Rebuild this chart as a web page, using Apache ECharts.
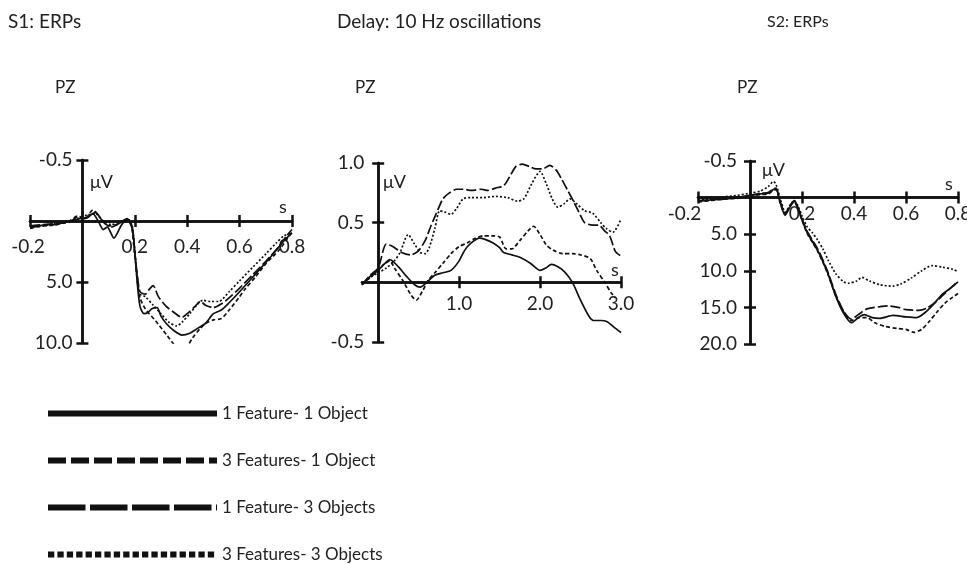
<!DOCTYPE html>
<html><head><meta charset="utf-8">
<script src="https://cdn.jsdelivr.net/npm/echarts@6/dist/echarts.min.js"></script>
<style>html,body{margin:0;padding:0;background:#fff}#c{width:967px;height:564px}</style>
</head><body><div id="c"></div>
<script>
// ---------- data ----------
const NAMES = ['1 Feature- 1 Object', '3 Features- 1 Object', '1 Feature- 3 Objects', '3 Features- 3 Objects'];
const PANEL_TITLES = ['S1: ERPs', 'Delay: 10 Hz oscillations', 'S2: ERPs'];
const ELECTRODE = 'PZ';

// Panel 1: S1 ERPs (s, µV; positive plotted downward)
const S1_1F1O = [[-0.2,0.5],[-0.17,0.4],[-0.13,0.3],[-0.1,0.3],[-0.07,0.1],[-0.04,0.0],[-0.01,-0.2],[0.02,-0.3],[0.04,-0.6],[0.06,0.0],[0.08,0.7],[0.095,0.5],[0.12,1.4],[0.15,0.3],[0.17,-0.1],[0.19,0.6],[0.2,2.5],[0.21,5.2],[0.22,7.0],[0.235,7.6],[0.25,7.5],[0.265,7.2],[0.285,7.1],[0.3,7.8],[0.32,8.4],[0.35,9.0],[0.38,9.35],[0.41,9.2],[0.44,8.8],[0.47,8.4],[0.5,7.6],[0.53,7.3],[0.56,6.7],[0.6,5.8],[0.65,4.6],[0.7,3.4],[0.74,2.4],[0.77,1.6],[0.8,1.0]];
const S1_3F1O = [[-0.2,0.6],[-0.15,0.4],[-0.1,0.3],[-0.05,0.0],[-0.02,-0.4],[0.01,-0.2],[0.04,-0.9],[0.07,-0.2],[0.1,0.4],[0.13,0.3],[0.16,0.0],[0.18,-0.1],[0.2,2.8],[0.21,5.0],[0.22,6.3],[0.24,7.2],[0.28,8.2],[0.32,9.3],[0.36,10.4],[0.38,10.7],[0.4,10.3],[0.42,9.6],[0.45,8.8],[0.47,8.4],[0.5,8.1],[0.53,8.0],[0.56,7.3],[0.6,6.2],[0.62,5.6],[0.66,4.6],[0.7,3.5],[0.75,2.4],[0.79,1.2],[0.8,0.9]];
const S1_1F3O = [[-0.2,0.4],[-0.15,0.3],[-0.1,0.2],[-0.05,0.1],[-0.02,-0.3],[0.01,-0.2],[0.05,-0.7],[0.08,0.1],[0.11,0.5],[0.14,0.2],[0.17,-0.2],[0.19,0.5],[0.2,2.6],[0.21,4.5],[0.22,5.8],[0.24,6.0],[0.255,5.6],[0.27,5.3],[0.29,6.2],[0.32,7.0],[0.35,7.5],[0.38,7.9],[0.4,7.6],[0.43,7.0],[0.45,6.6],[0.47,6.9],[0.5,7.1],[0.53,6.8],[0.56,6.3],[0.6,5.5],[0.65,4.4],[0.7,3.3],[0.75,2.1],[0.78,1.2],[0.8,0.7]];
const S1_3F3O = [[-0.2,0.5],[-0.15,0.4],[-0.1,0.2],[-0.05,0.0],[-0.02,-0.2],[0.02,-0.5],[0.05,-0.6],[0.08,0.0],[0.11,0.3],[0.14,0.1],[0.17,-0.1],[0.19,0.4],[0.2,2.5],[0.21,4.8],[0.22,6.0],[0.24,6.2],[0.27,6.9],[0.3,7.6],[0.33,8.3],[0.36,8.6],[0.38,8.3],[0.41,7.6],[0.44,6.8],[0.46,6.5],[0.49,6.6],[0.52,6.6],[0.56,5.8],[0.6,4.9],[0.65,3.8],[0.7,2.7],[0.74,1.8],[0.77,1.2],[0.8,1.0]];

// Panel 2: Delay, 10 Hz oscillations (s, µV)
const S2_1F1O = [[-0.2,-0.02],[-0.1,0.05],[0,0.1],[0.07,0.15],[0.145,0.19],[0.25,0.13],[0.35,0.05],[0.45,-0.02],[0.52,-0.04],[0.6,0.0],[0.7,0.06],[0.8,0.08],[0.9,0.1],[1.0,0.18],[1.07,0.27],[1.15,0.33],[1.25,0.37],[1.32,0.36],[1.42,0.33],[1.5,0.29],[1.55,0.25],[1.65,0.23],[1.75,0.21],[1.88,0.16],[1.95,0.12],[2.0,0.1],[2.07,0.12],[2.14,0.15],[2.22,0.13],[2.3,0.09],[2.4,0.0],[2.5,-0.15],[2.6,-0.28],[2.66,-0.32],[2.75,-0.32],[2.83,-0.33],[2.92,-0.38],[3.0,-0.42]];
const S2_3F1O = [[-0.2,-0.02],[-0.1,0.04],[0,0.1],[0.07,0.15],[0.145,0.18],[0.2,0.12],[0.3,0.02],[0.4,-0.1],[0.47,-0.15],[0.55,-0.07],[0.62,0.02],[0.7,0.08],[0.8,0.16],[0.9,0.24],[1.0,0.3],[1.1,0.33],[1.2,0.37],[1.3,0.39],[1.4,0.39],[1.5,0.38],[1.58,0.28],[1.65,0.28],[1.75,0.35],[1.85,0.43],[1.92,0.47],[2.0,0.4],[2.08,0.31],[2.16,0.27],[2.28,0.24],[2.4,0.24],[2.5,0.23],[2.62,0.2],[2.7,0.1],[2.8,0.0],[2.88,-0.09],[2.93,-0.13]];
const S2_1F3O = [[-0.2,-0.02],[-0.1,0.06],[0,0.12],[0.1,0.32],[0.18,0.3],[0.29,0.25],[0.4,0.23],[0.49,0.26],[0.58,0.35],[0.65,0.47],[0.72,0.58],[0.8,0.7],[0.88,0.75],[0.97,0.78],[1.05,0.78],[1.15,0.77],[1.28,0.78],[1.35,0.77],[1.45,0.79],[1.55,0.81],[1.62,0.88],[1.7,0.97],[1.78,0.99],[1.87,0.97],[1.95,0.95],[2.03,0.95],[2.12,0.98],[2.2,0.94],[2.27,0.86],[2.35,0.76],[2.42,0.67],[2.5,0.56],[2.55,0.5],[2.65,0.48],[2.72,0.48],[2.8,0.43],[2.86,0.39],[2.93,0.26],[3.0,0.22]];
const S2_3F3O = [[-0.2,-0.02],[-0.1,0.04],[0,0.08],[0.1,0.12],[0.2,0.18],[0.27,0.25],[0.37,0.4],[0.45,0.32],[0.52,0.25],[0.58,0.24],[0.63,0.29],[0.7,0.45],[0.76,0.6],[0.82,0.59],[0.9,0.57],[0.97,0.62],[1.05,0.7],[1.15,0.71],[1.3,0.71],[1.45,0.72],[1.6,0.71],[1.72,0.68],[1.8,0.7],[1.9,0.83],[2.0,0.93],[2.08,0.82],[2.15,0.7],[2.22,0.63],[2.3,0.66],[2.37,0.7],[2.45,0.66],[2.55,0.6],[2.65,0.58],[2.75,0.5],[2.82,0.45],[2.9,0.42],[3.0,0.53]];

// Panel 3: S2 ERPs (s, µV; positive plotted downward)
const S3_1F1O = [[-0.2,0.5],[-0.15,0.3],[-0.1,0.2],[-0.05,0.0],[0,-0.3],[0.04,-0.5],[0.07,-0.6],[0.09,-1.1],[0.1,-1.2],[0.115,0.5],[0.135,2.4],[0.155,1.2],[0.17,0.5],[0.185,1.5],[0.2,3.0],[0.22,4.8],[0.24,6.0],[0.26,7.2],[0.28,8.7],[0.3,10.4],[0.33,13.5],[0.36,15.8],[0.39,17.1],[0.42,16.3],[0.44,16.0],[0.47,16.4],[0.5,16.5],[0.55,16.1],[0.6,16.3],[0.64,16.4],[0.67,15.8],[0.7,14.8],[0.74,13.2],[0.77,12.4],[0.8,11.5]];
const S3_3F1O = [[-0.2,0.6],[-0.15,0.4],[-0.1,0.2],[-0.05,0.1],[0,-0.2],[0.04,-0.4],[0.07,-0.5],[0.09,-1.0],[0.1,-1.1],[0.115,0.6],[0.135,2.3],[0.155,1.1],[0.17,0.6],[0.185,1.6],[0.2,3.1],[0.22,4.9],[0.24,6.1],[0.26,7.3],[0.28,8.8],[0.3,10.5],[0.33,13.4],[0.36,15.6],[0.39,16.8],[0.42,16.4],[0.45,16.4],[0.48,17.1],[0.52,17.6],[0.57,17.9],[0.6,18.0],[0.63,18.4],[0.66,18.0],[0.69,16.9],[0.72,15.6],[0.75,14.4],[0.78,13.6],[0.8,13.1]];
const S3_1F3O = [[-0.2,0.4],[-0.15,0.3],[-0.1,0.1],[-0.05,0.0],[0,-0.3],[0.04,-0.6],[0.07,-0.7],[0.09,-1.2],[0.1,-1.3],[0.115,0.4],[0.135,2.2],[0.155,1.0],[0.17,0.4],[0.185,1.4],[0.2,2.9],[0.22,4.6],[0.24,5.8],[0.26,7.0],[0.28,8.5],[0.3,10.2],[0.33,13.2],[0.36,15.5],[0.39,16.6],[0.42,15.9],[0.45,15.2],[0.5,14.9],[0.53,14.8],[0.57,15.0],[0.6,15.3],[0.65,15.4],[0.68,15.1],[0.71,14.4],[0.74,13.4],[0.77,12.4],[0.8,11.4]];
const S3_3F3O = [[-0.2,0.3],[-0.15,0.1],[-0.1,-0.1],[-0.05,-0.3],[0,-0.6],[0.04,-0.9],[0.07,-1.5],[0.09,-2.2],[0.1,-1.8],[0.12,0.5],[0.135,2.0],[0.155,1.0],[0.17,0.4],[0.185,1.2],[0.2,2.5],[0.22,4.0],[0.24,4.8],[0.26,5.8],[0.28,7.0],[0.3,8.5],[0.33,10.4],[0.36,11.5],[0.38,11.7],[0.41,11.4],[0.43,10.9],[0.46,11.4],[0.5,11.9],[0.55,12.1],[0.58,11.8],[0.62,11.0],[0.66,10.0],[0.7,9.3],[0.74,9.5],[0.78,9.8],[0.8,10.1]];

// tick positions and labels
const S1_X_TICKS = [-0.2, 0.2, 0.4, 0.6, 0.8];
const S1_X_LABELS = ['-0.2', '0.2', '0.4', '0.6', '0.8'];
const S1_Y_TICKS = [-5, 5, 10];
const S1_Y_LABELS = ['-0.5', '5.0', '10.0'];
const S2_X_TICKS = [1, 2, 3];
const S2_X_LABELS = ['1.0', '2.0', '3.0'];
const S2_Y_TICKS = [-0.5, 0.5, 1.0];
const S2_Y_LABELS = ['-0.5', '0.5', '1.0'];
const S3_X_TICKS = [-0.2, 0.2, 0.4, 0.6, 0.8];
const S3_X_LABELS = ['-0.2', '0.2', '0.4', '0.6', '0.8'];
const S3_Y_TICKS = [-5, 5, 10, 15, 20];
const S3_Y_LABELS = ['-0.5', '5.0', '10.0', '15.0', '20.0'];

// ---------- styling / layout ----------
const FONT = 'Lato';
const INK = '#111';
const TXT = '#222';
const LINE_TYPES = ['solid', [4, 2.5], [10, 3], [2, 2]];
const LEGEND_TYPES = ['solid', [18, 5], [37.5, 4.5], [6.3, 3.1]];

const panels = [
  { grid: {left: 30, top: 160, width: 262, height: 183}, xr: [-0.2, 0.8], yr: [-5, 10], inverse: true,
    xt: S1_X_TICKS, xl: S1_X_LABELS, yt: S1_Y_TICKS, yl: S1_Y_LABELS, data: [S1_1F1O, S1_3F1O, S1_1F3O, S1_3F3O],
    ym: 10, xm: 16, firstPad: 4 },
  { grid: {left: 362, top: 163, width: 259, height: 179}, xr: [-0.2, 3.0], yr: [-0.5, 1.0], inverse: false,
    xt: S2_X_TICKS, xl: S2_X_LABELS, yt: S2_Y_TICKS, yl: S2_Y_LABELS, data: [S2_1F1O, S2_3F1O, S2_1F3O, S2_3F3O],
    ym: 14, xm: 12, firstPad: 0 },
  { grid: {left: 698, top: 161, width: 260, height: 183}, xr: [-0.2, 0.8], yr: [-5, 20], inverse: true,
    xt: S3_X_TICKS, xl: S3_X_LABELS, yt: S3_Y_TICKS, yl: S3_Y_LABELS, data: [S3_1F1O, S3_3F1O, S3_1F3O, S3_3F3O],
    ym: 13, xm: 7, firstPad: 27 }
];

function labelOf(ticks, labels, firstPad) {
  return function (v) {
    for (let i = 0; i < ticks.length; i++) {
      if (Math.abs(ticks[i] - v) < 1e-9) return (i === 0 && firstPad) ? '{f|' + labels[i] + '}' : labels[i];
    }
    return '';
  };
}

const grid = [], xAxis = [], yAxis = [], series = [];
const axisLineStyle = {color: INK, width: 2.5};
panels.forEach((p, i) => {
  grid.push(Object.assign({containLabel: false, outerBoundsMode: 'none'}, p.grid));
  const yMain = 2 * i, xMain = 2 * i;
  [0, 1].forEach(k => {
    xAxis.push({
      gridIndex: i, type: 'value', min: p.xr[0], max: p.xr[1], position: k === 0 ? 'bottom' : 'top', offset: 0,
      axisLine: {show: true, onZero: false, lineStyle: axisLineStyle},
      axisTick: {show: true, length: 6, customValues: p.xt, lineStyle: axisLineStyle},
      axisLabel: {show: k === 0, customValues: p.xt, formatter: labelOf(p.xt, p.xl, p.firstPad), margin: p.xm,
                  fontSize: 19, fontFamily: FONT, color: TXT,
                  rich: {f: {fontSize: 19, fontFamily: FONT, color: TXT, padding: [0, p.firstPad, 0, 0]}}},
      splitLine: {show: false}
    });
    yAxis.push({
      gridIndex: i, type: 'value', min: p.yr[0], max: p.yr[1], inverse: p.inverse, position: k === 0 ? 'left' : 'right', offset: 0,
      axisLine: {show: true, onZero: false, lineStyle: axisLineStyle},
      axisTick: {show: true, length: 6, customValues: p.yt, lineStyle: axisLineStyle},
      axisLabel: {show: k === 0, customValues: p.yt, formatter: labelOf(p.yt, p.yl, 0), margin: p.ym,
                  fontSize: 19, fontFamily: FONT, color: TXT},
      splitLine: {show: false}
    });
  });
  p.data.forEach((d, j) => {
    series.push({
      name: NAMES[j], type: 'line', xAxisIndex: xMain, yAxisIndex: yMain, data: d,
      showSymbol: false, symbol: 'none', smooth: 0.25, silent: true,
      lineStyle: {color: INK, width: 1.7, type: LINE_TYPES[j]}
    });
  });
});

const title = [
  {text: PANEL_TITLES[0], left: 8, top: 12, textStyle: {fontSize: 19}},
  {text: PANEL_TITLES[1], left: 337, top: 12, textStyle: {fontSize: 19}},
  {text: PANEL_TITLES[2], left: 767, top: 14, textStyle: {fontSize: 16}},
  {text: ELECTRODE, left: 55, top: 79, textStyle: {fontSize: 17}},
  {text: ELECTRODE, left: 355, top: 79, textStyle: {fontSize: 17}},
  {text: ELECTRODE, left: 737, top: 79, textStyle: {fontSize: 17}}
].map(t => { t.padding = 0; t.textStyle = Object.assign({fontWeight: 'normal', fontFamily: FONT, color: TXT}, t.textStyle); return t; });

const unitText = (txt, x, y) => ({type: 'text', x: x, y: y, silent: true,
  style: {text: txt, fontSize: 18, fontFamily: FONT, fill: TXT, verticalAlign: 'middle', align: 'left'}});
const graphic = [
  unitText('\u03bcV', 90, 182), unitText('s', 279, 207),
  unitText('\u03bcV', 383, 182), unitText('s', 611, 270),
  unitText('\u03bcV', 762, 170), unitText('s', 945, 184)
];

const chart = echarts.init(document.getElementById('c'), null, {renderer: 'canvas'});
chart.setOption({
  animation: false,
  backgroundColor: '#fff',
  title: title,
  grid: grid, xAxis: xAxis, yAxis: yAxis, series: series, graphic: graphic,
  legend: {
    orient: 'vertical', left: 45, top: 405, itemWidth: 169, itemHeight: 17, itemGap: 30,
    selectedMode: false, padding: 0,
    textStyle: {fontSize: 17, fontFamily: FONT, color: TXT, padding: [0, 0, 0, 0]},
    itemStyle: {color: 'rgba(0,0,0,0)', borderWidth: 0, opacity: 0},
    data: NAMES.map((n, j) => ({name: n, lineStyle: {color: INK, width: 6, type: LEGEND_TYPES[j], cap: 'butt'}}))
  }
});

// Move each axis pair onto the zero lines, using the library's own scales.
panels.forEach((p, i) => {
  const z = chart.convertToPixel({xAxisIndex: 2 * i, yAxisIndex: 2 * i}, [0, 0]);
  const g = p.grid, bottom = g.top + g.height, right = g.left + g.width;
  xAxis[2 * i].offset = z[1] - bottom;
  xAxis[2 * i + 1].offset = g.top - z[1];
  yAxis[2 * i].offset = g.left - z[0];
  yAxis[2 * i + 1].offset = z[0] - right;
});
chart.setOption({xAxis: xAxis, yAxis: yAxis});
</script>
</body></html>
